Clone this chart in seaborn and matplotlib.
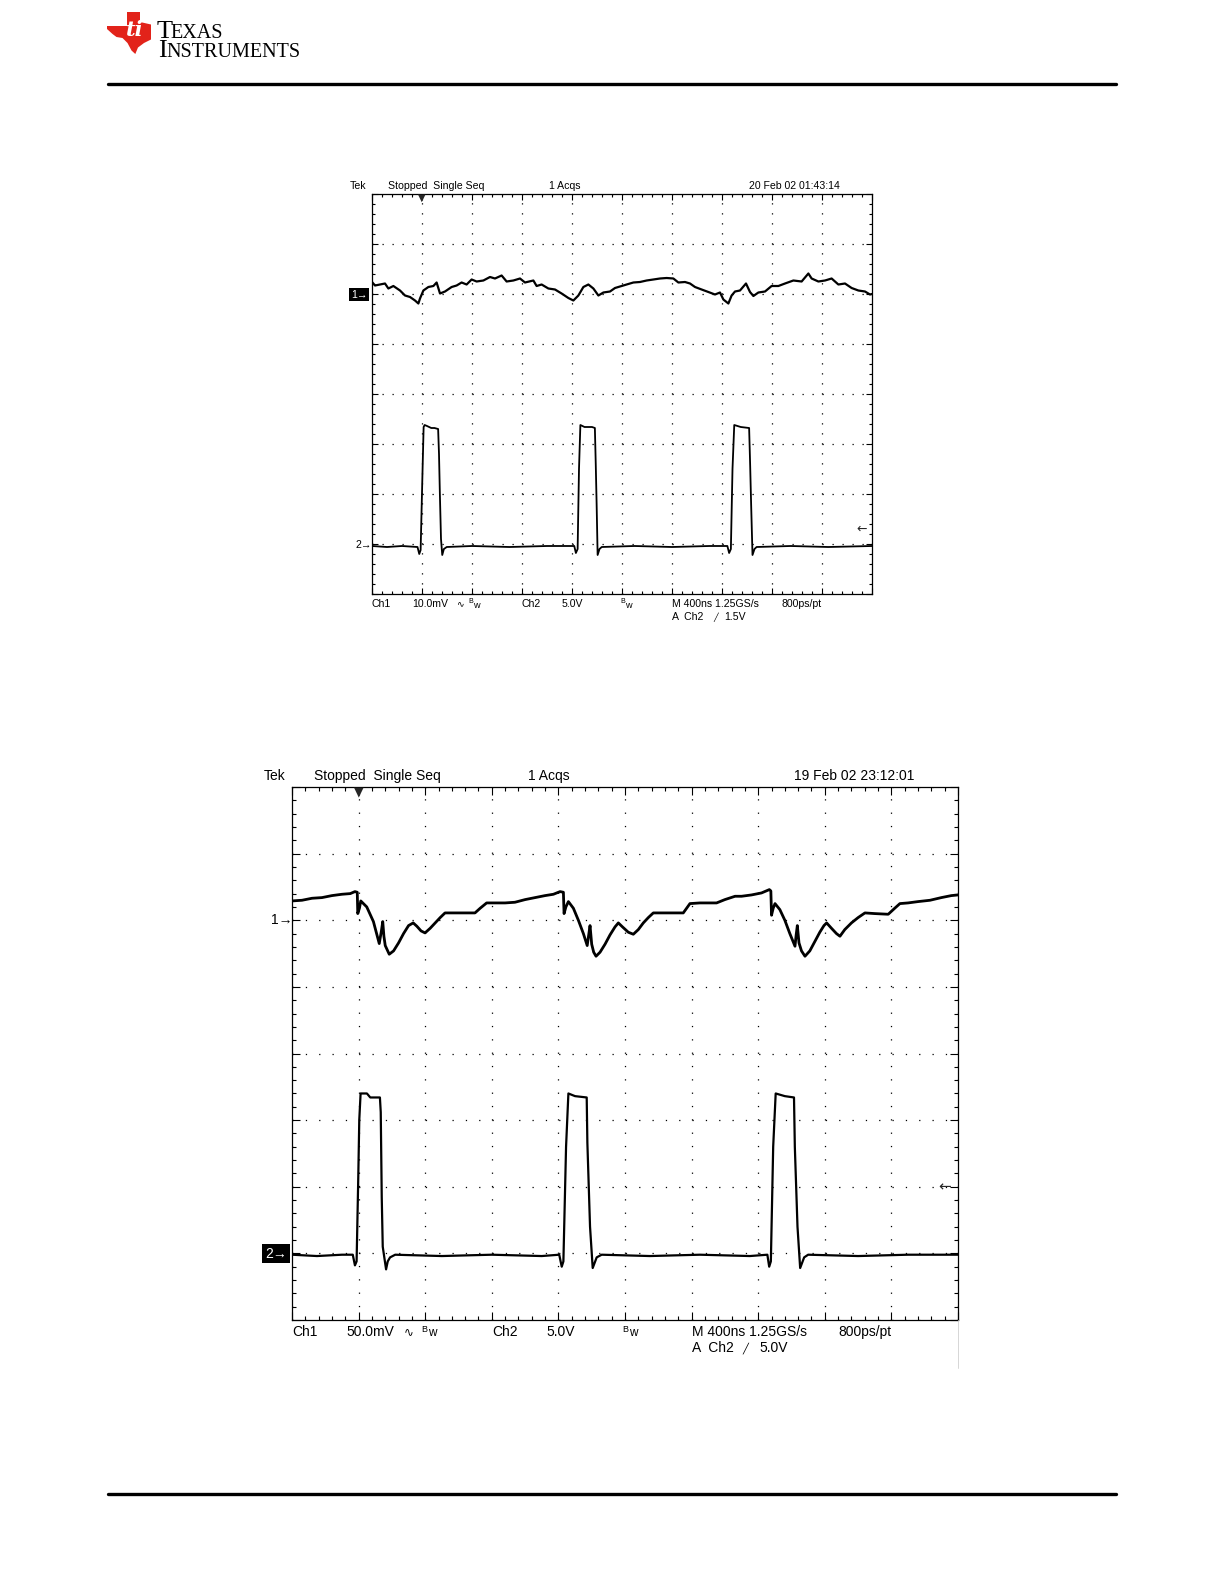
"""Two oscilloscope captures (Tek) redrawn with seaborn."""

import matplotlib
matplotlib.use("Agg")
import matplotlib.pyplot as plt
from matplotlib.patches import Polygon
import numpy as np
import pandas as pd
import seaborn as sns

W, H = 1225, 1585

# time base: 10 div x 400 ns, trigger 1 div from left edge
TIME_PER_DIV = 400
TRIG_T = 400

# ---- capture 1 (upper screen): Ch1 10 mV/div, Ch2 5 V/div ----
top_ch1_t = [0, 24, 64, 104, 131, 171, 224, 264, 304, 344, 371, 384, 411, 451, 491, 517,
             544, 584, 637, 677, 717, 757, 797, 837, 891, 944, 984, 1037, 1077, 1131, 1184,
             1224, 1291, 1317, 1357, 1411, 1464, 1517, 1571, 1611, 1651, 1691, 1731, 1771,
             1811, 1851, 1904, 1944, 2037, 2091, 2144, 2197, 2251, 2304, 2357, 2411, 2451,
             2504, 2544, 2584, 2637, 2691, 2744, 2784, 2811, 2851, 2877, 2904, 2944, 2992,
             3024, 3051, 3091, 3144, 3197, 3251, 3304, 3371, 3437, 3491, 3517, 3571, 3624,
             3677, 3731, 3784, 3837, 3891, 3944, 3984, 4000]
top_ch1_mv = [2.4, 1.7, 1.9, 2.1, 1.1, 1.6, 0.7, -0.3, -0.6, -1.3, -1.9, -0.9, 0.7, 1.4,
              1.6, 2.3, 0.1, 0.5, 1.4, 1.7, 2.3, 1.9, 2.9, 2.5, 2.7, 3.4, 3.1, 3.7, 2.5,
              2.7, 3.1, 2.3, 2.7, 1.6, 1.9, 1.1, 0.9, 0.1, -0.8, -1.3, -0.3, 1.4, 1.9, 1.1,
              -0.3, 0.3, 0.5, 1.2, 1.9, 2.3, 2.4, 2.7, 2.9, 3.1, 3.2, 3.1, 2.3, 2.4, 2.1,
              1.4, 0.9, 0.4, -0.1, 0.3, -1.1, -1.9, -0.3, 0.5, 0.7, 2.1, 0.4, -0.4, 0.3,
              0.5, 1.6, 1.6, 2.1, 2.7, 2.5, 4.1, 3.1, 2.5, 2.7, 3.1, 1.9, 2.1, 1.2, 0.7,
              0.5, -0.1, 0.0]
top_ch2_t = [0, 120, 240, 364, 378, 389, 405, 413, 421, 440, 474, 500, 529, 536, 543, 552,
             562, 575, 598, 800, 1100, 1400, 1618, 1631, 1645, 1656, 1667, 1700, 1760, 1783,
             1790, 1797, 1805, 1820, 1838, 2100, 2400, 2700, 2843, 2857, 2871, 2884, 2898,
             2950, 3017, 3025, 3033, 3044, 3060, 3077, 3350, 3650, 4000]
top_ch2_v = [-0.2, -0.3, -0.2, -0.3, -1.0, -0.6, 7.7, 11.7, 11.9, 11.8, 11.6, 11.6, 11.5,
             9.0, 5.0, 0.5, -1.1, -0.5, -0.3, -0.2, -0.3, -0.2, -0.2, -0.9, -0.5, 7.5, 11.9,
             11.7, 11.7, 11.6, 8.0, 4.0, -1.1, -0.5, -0.3, -0.2, -0.3, -0.2, -0.2, -0.9,
             -0.5, 7.5, 11.9, 11.7, 11.6, 8.0, 4.0, -1.1, -0.5, -0.3, -0.2, -0.3, -0.2]

# ---- capture 2 (lower screen): Ch1 50 mV/div, Ch2 5 V/div ----
bot_ch1_t = [0, 60, 120, 180, 240, 300, 350, 378, 392, 395, 405, 413, 449, 489, 524, 537,
             545, 552, 560, 584, 610, 640, 670, 700, 728, 750, 775, 799, 830, 860, 890, 919,
             960, 1010, 1060, 1099, 1130, 1169, 1220, 1280, 1339, 1400, 1460, 1520, 1570,
             1610, 1630, 1634, 1645, 1660, 1690, 1720, 1750, 1773, 1782, 1790, 1800, 1812,
             1826, 1850, 1880, 1910, 1940, 1960, 1985, 2020, 2050, 2080, 2110, 2140, 2170,
             2230, 2290, 2350, 2390, 2450, 2500, 2550, 2600, 2661, 2700, 2760, 2820, 2867,
             2876, 2880, 2890, 2901, 2930, 2960, 2990, 3021, 3028, 3035, 3045, 3060, 3081,
             3110, 3140, 3170, 3195, 3211, 3240, 3270, 3291, 3320, 3360, 3400, 3441, 3500,
             3581, 3620, 3651, 3700, 3760, 3832, 3900, 3960, 4000]
bot_ch1_mv = [14.5, 15.0, 16.5, 17.0, 18.5, 19.5, 20.0, 21.5, 21.0, 5.0, 9.0, 14.5, 10.0,
              -1.0, -17.5, -8.0, -1.0, -12.0, -19.0, -25.5, -23.0, -17.0, -10.0, -4.0,
              -2.0, -4.5, -8.0, -9.5, -6.0, -2.0, 2.0, 5.5, 5.5, 5.5, 5.5, 5.5, 9.0, 13.0,
              13.0, 13.0, 13.5, 15.5, 17.0, 18.5, 19.5, 21.5, 21.0, 5.0, 10.0, 14.0, 9.0,
              0.0, -10.0, -19.0, -11.0, -4.0, -18.0, -24.0, -27.0, -24.0, -18.0, -11.0,
              -5.0, -2.0, -5.0, -9.0, -10.5, -7.0, -2.0, 2.0, 5.5, 5.5, 5.5, 5.5, 12.5,
              13.0, 13.0, 13.0, 15.5, 18.0, 18.0, 19.0, 20.5, 23.0, 22.0, 3.75, 9.0, 12.5,
              8.0, 0.0, -10.0, -19.5, -11.0, -4.0, -17.0, -23.0, -27.0, -23.0, -16.0, -9.0,
              -4.0, -2.0, -6.0, -10.0, -12.0, -7.0, -2.0, 2.0, 5.5, 5.0, 4.5, 9.0, 12.5,
              13.0, 14.0, 15.0, 17.0, 18.5, 19.0]
bot_ch2_t = [0, 150, 300, 365, 378, 388, 398, 404, 412, 450, 470, 528, 533, 539, 545, 565,
             575, 589, 620, 900, 1200, 1500, 1605, 1620, 1630, 1646, 1660, 1700, 1770, 1774,
             1790, 1806, 1830, 1860, 2150, 2450, 2750, 2855, 2866, 2876, 2890, 2905, 2960,
             3015, 3020, 3036, 3052, 3076, 3100, 3400, 3700, 4000]
bot_ch2_v = [-0.1, -0.2, -0.1, -0.1, -0.9, -0.6, 5.7, 10.0, 12.0, 12.0, 11.7, 11.7, 10.6,
             4.2, 0.5, -1.2, -0.6, -0.3, -0.1, -0.2, -0.1, -0.2, -0.1, -1.0, -0.6, 8.0,
             12.0, 11.8, 11.7, 8.3, 2.0, -1.1, -0.3, -0.1, -0.2, -0.1, -0.2, -0.1, -1.0,
             -0.6, 8.0, 12.0, 11.8, 11.7, 8.0, 2.0, -1.1, -0.3, -0.1, -0.2, -0.1, -0.1]

# channel settings (volts per division, position in divisions from centre)
TOP_CH1_SCALE, BOT_CH1_SCALE, CH2_SCALE = 10.0, 50.0, 5.0
CH1_POS, CH2_POS = 2, -3
TOP_TRIG_LEVEL, BOT_TRIG_LEVEL = 1.5, 5.0

SCOPE_FONT = ["Liberation Sans", "DejaVu Sans"]


def ftext(fig, x, y, s, size, **kw):
    """Text placed in reference pixel coordinates (origin top-left)."""
    kw.setdefault("ha", "left")
    kw.setdefault("va", "center")
    kw.setdefault("family", SCOPE_FONT)
    kw.setdefault("color", "black")
    return fig.text(x / W, 1 - y / H, s, fontsize=size, **kw)


def add_trace(ax, t, vals, per_div, pos, lw):
    df = pd.DataFrame({"t": t, "div": np.asarray(vals, float) / per_div + pos})
    sns.lineplot(data=df, x="t", y="div", ax=ax, color="black", linewidth=lw,
                 estimator=None, sort=False, legend=False)


def style_screen(ax, dot_gap, major_len, minor_len, marker_size, trig_level):
    ax.set_xlim(0, 10 * TIME_PER_DIV)
    ax.set_ylim(-4, 4)
    ax.set_xticks(np.arange(0, 10 * TIME_PER_DIV + 1, TIME_PER_DIV))
    ax.set_xticks(np.arange(0, 10 * TIME_PER_DIV + 1, TIME_PER_DIV / 5), minor=True)
    ax.set_yticks(np.arange(-4, 5, 1))
    ax.set_yticks(np.arange(-4, 4.01, 0.2), minor=True)
    ax.set_xlabel("")
    ax.set_ylabel("")
    ax.tick_params(which="both", direction="in", top=True, right=True, bottom=True,
                   left=True, labelbottom=False, labelleft=False, color="black", width=0.8)
    ax.tick_params(which="major", length=major_len)
    ax.tick_params(which="minor", length=minor_len)
    ax.grid(True, which="major", color="black", linewidth=0.9,
            linestyle=(0, (0.9, dot_gap)))
    ax.grid(False, which="minor")
    for sp in ax.spines.values():
        sp.set_visible(True)
        sp.set_color("black")
        sp.set_linewidth(0.9)
    # trigger position marker on the top edge
    ax.text(TRIG_T, 4.02, "\u25BC", ha="center", va="top", fontsize=marker_size,
            family="DejaVu Sans", clip_on=False)
    # trigger level arrow on the right edge
    ax.text(0.99, CH2_POS + trig_level / CH2_SCALE, "\u2190", ha="right", va="center",
            fontsize=marker_size + 2, family="DejaVu Sans",
            transform=ax.get_yaxis_transform())


def draw_screen(fig, rect, ch1, ch2, ch1_scale, trig_level, lw1, lw2, dot_gap,
                major_len, minor_len, marker_size):
    ax = fig.add_axes(rect)
    add_trace(ax, ch1[0], ch1[1], ch1_scale, CH1_POS, lw1)
    add_trace(ax, ch2[0], ch2[1], CH2_SCALE, CH2_POS, lw2)
    style_screen(ax, dot_gap, major_len, minor_len, marker_size, trig_level)
    return ax


sns.set_style("white")
plt.rcParams["lines.scale_dashes"] = False
plt.rcParams["font.family"] = SCOPE_FONT

fig = plt.figure(figsize=(W / 100, H / 100), dpi=100)
fig.patch.set_facecolor("white")

# ---- page header / footer ----
texas = [(127, 12), (140, 12), (140, 22), (151, 24.5), (151, 39.5), (144, 43),
         (138, 47.5), (135.3, 54), (131.5, 50.5), (127.5, 43), (122.5, 38), (116.5, 37),
         (112.5, 34), (107, 29), (107, 26), (127, 26)]
fig.patches.append(Polygon([(x / W, 1 - y / H) for x, y in texas], closed=True,
                           transform=fig.transFigure, facecolor="#e2231a",
                           edgecolor="none"))
fig.text(135 / W, 1 - 30 / H, "ti", fontsize=15, color="white", style="italic",
         weight="bold", family="DejaVu Serif", ha="center", va="center")
ftext(fig, 157, 38, "T", 19, family="Liberation Serif", va="baseline")
ftext(fig, 170, 38, "EXAS", 14.5, family="Liberation Serif", va="baseline")
ftext(fig, 158, 57, "I", 19, family="Liberation Serif", va="baseline")
ftext(fig, 166, 57, "NSTRUMENTS", 14.5, family="Liberation Serif", va="baseline")
fig.add_artist(plt.Line2D([108 / W, 1116 / W], [1 - 84 / H] * 2, color="black",
                          linewidth=2.4, transform=fig.transFigure))
fig.add_artist(plt.Line2D([108 / W, 1116 / W], [1 - 1494 / H] * 2, color="black",
                          linewidth=2.4, transform=fig.transFigure))

# ---- upper capture ----
ax1 = draw_screen(fig, [372 / W, 1 - 594 / H, 500 / W, 400 / H],
                  (top_ch1_t, top_ch1_mv), (top_ch2_t, top_ch2_v), TOP_CH1_SCALE,
                  TOP_TRIG_LEVEL, 1.6, 1.3, 6.3, 4.5, 2.5, 7)
s1 = 7.6
ftext(fig, 350, 186, "Tek", s1)
ftext(fig, 388, 186, "Stopped  Single Seq", s1)
ftext(fig, 549, 186, "1 Acqs", s1)
ftext(fig, 749, 186, "20 Feb 02 01:43:14", s1)
ftext(fig, 372, 604, "Ch1", s1)
ftext(fig, 412, 604, "10.0mV", s1)
ftext(fig, 456, 604, "\u223F", s1 - 1)
ftext(fig, 468, 602, "B", s1 - 2.5)
ftext(fig, 473, 605, "w", s1 - 1)
ftext(fig, 522, 604, "Ch2", s1)
ftext(fig, 562, 604, "5.0V", s1)
ftext(fig, 620, 602, "B", s1 - 2.5)
ftext(fig, 625, 605, "w", s1 - 1)
ftext(fig, 672, 604, "M 400ns 1.25GS/s", s1)
ftext(fig, 781, 604, "800ps/pt", s1)
ftext(fig, 672, 617, "A  Ch2", s1)
ftext(fig, 713, 617, "\u2571", s1 - 2, family="DejaVu Sans")
ftext(fig, 724, 617, "1.5V", s1)
ftext(fig, 351, 294.5, "1\u2192", s1, color="white",
      bbox=dict(boxstyle="square,pad=0.15", facecolor="black", edgecolor="none"))
ftext(fig, 355, 545, "2\u2192", s1)

# ---- lower capture ----
ax2 = draw_screen(fig, [292 / W, 1 - 1320 / H, 666 / W, 533 / H],
                  (bot_ch1_t, bot_ch1_mv), (bot_ch2_t, bot_ch2_v), BOT_CH1_SCALE,
                  BOT_TRIG_LEVEL, 2.0, 1.6, 8.7, 6.0, 3.0, 9)
s2 = 10
ftext(fig, 264, 776, "Tek", s2)
ftext(fig, 314, 776, "Stopped  Single Seq", s2)
ftext(fig, 528, 776, "1 Acqs", s2)
ftext(fig, 794, 776, "19 Feb 02 23:12:01", s2)
ftext(fig, 292, 1332, "Ch1", s2)
ftext(fig, 346, 1332, "50.0mV", s2)
ftext(fig, 404, 1332, "\u223F", s2 - 1.5)
ftext(fig, 421, 1329, "B", s2 - 3.5)
ftext(fig, 428, 1333, "w", s2 - 1.5)
ftext(fig, 492, 1332, "Ch2", s2)
ftext(fig, 546, 1332, "5.0V", s2)
ftext(fig, 622, 1329, "B", s2 - 3.5)
ftext(fig, 629, 1333, "w", s2 - 1.5)
ftext(fig, 692, 1332, "M 400ns 1.25GS/s", s2)
ftext(fig, 838, 1332, "800ps/pt", s2)
ftext(fig, 692, 1348, "A  Ch2", s2)
ftext(fig, 742, 1348, "\u2571", s2 - 3, family="DejaVu Sans")
ftext(fig, 759, 1348, "5.0V", s2)
ftext(fig, 271, 920, "1\u2192", s2)
ftext(fig, 265, 1253.5, "2\u2192", s2, color="white",
      bbox=dict(boxstyle="square,pad=0.2", facecolor="black", edgecolor="none"))
fig.add_artist(plt.Line2D([958 / W] * 2, [1 - 1320 / H, 1 - 1368 / H], color="#d0d0d0",
                          linewidth=0.6, transform=fig.transFigure))

fig.savefig("out.png", dpi=100, facecolor="white")
